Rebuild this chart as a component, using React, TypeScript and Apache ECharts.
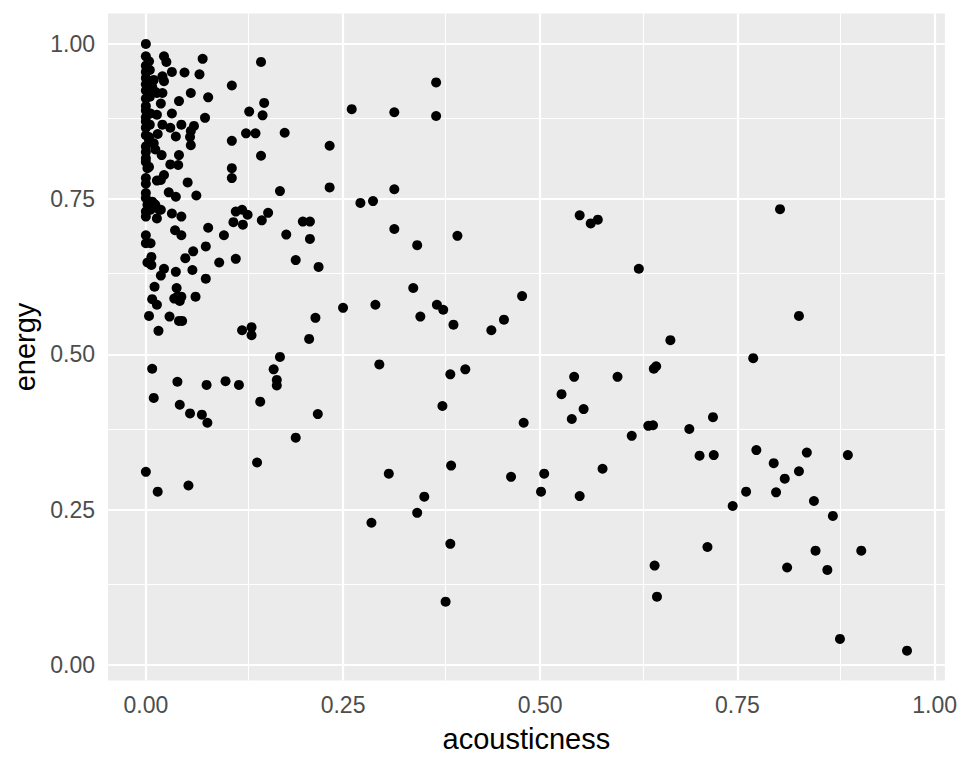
import React, { useEffect, useRef } from "react";
import * as echarts from "echarts";

const acousticness = [
  0, 0, 0.004, 0, 0, 0, 0.01, 0, 0.008, 0, 0.012, 0, 0, 0, 0.006, 0.014, 0, 0, 0, 0, 0.004, 0.004, 0.01, 0, 0, 0, 0.002, 0.004, 0, 0, 0, 0, 0.002, 0.008, 0.012, 0.017, 0, 0.014, 0, 0, 0.006, 0.006, 0.01, 0.019, 0, 0, 0.005, 0.005, 0.005,
  0.023, 0.026, 0.072, 0.033, 0.049, 0.068, 0.021, 0.023, 0.109, 0.057, 0.021, 0.014, 0.079, 0.042, 0.019, 0.131, 0.033, 0.075, 0.021, 0.031, 0.045, 0.061, 0.057, 0.056, 0.057, 0.038, 0.109, 0.127, 0.139, 0.02, 0.042, 0.031, 0.041, 0.109, 0.109, 0.023, 0.019, 0.014, 0.053, 0.029, 0.038, 0.064, 0.033, 0.045, 0.079, 0.099, 0.037, 0.045, 0.114, 0.122, 0.129, 0.111, 0.123, 0.076, 0.06, 0.05, 0.093, 0.114, 0.007, 0.002, 0.007, 0.023, 0.019, 0.038, 0.059, 0.076, 0.011, 0.039, 0.04, 0.036, 0.045, 0.043, 0.063, 0.008, 0.014, 0.004, 0.03, 0.042, 0.046, 0.016, 0.015, 0.012,
  0.146, 0.15, 0.148, 0.261, 0.315, 0.368, 0.368, 0.176, 0.233, 0.146, 0.17, 0.233, 0.315, 0.272, 0.288, 0.155, 0.147, 0.199, 0.208, 0.178, 0.208, 0.315, 0.344, 0.395, 0.19, 0.219, 0.339, 0.25, 0.291, 0.215, 0.348, 0.369, 0.377, 0.39, 0.134, 0.134, 0.122, 0.438, 0.207, 0.17, 0.162, 0.166, 0.166, 0.145, 0.218, 0.296, 0.386, 0.405, 0.376, 0.19, 0.141, 0.308, 0.387, 0.353, 0.344, 0.286, 0.386, 0.38,
  0.008, 0.04, 0.077, 0.101, 0.118, 0.01, 0.043, 0.056, 0.071, 0.078, 0, 0.015, 0.054,
  0.454, 0.477, 0.55, 0.564, 0.573, 0.625, 0.804, 0.828, 0.665, 0.77, 0.644, 0.647, 0.543, 0.598, 0.527, 0.555, 0.54, 0.479, 0.719, 0.637, 0.643, 0.689, 0.616, 0.702, 0.72, 0.774, 0.838, 0.89, 0.796, 0.828, 0.81, 0.761, 0.799, 0.847, 0.744, 0.871, 0.463, 0.505, 0.501, 0.55, 0.579, 0.712, 0.849, 0.907, 0.813, 0.864, 0.645, 0.648, 0.88, 0.965,
];

const energy = [
  1.0, 0.98, 0.972, 0.965, 0.955, 0.945, 0.942, 0.935, 0.931, 0.925, 0.923, 0.912, 0.9, 0.893, 0.888, 0.886, 0.882, 0.875, 0.865, 0.853, 0.85, 0.845, 0.84, 0.835, 0.826, 0.816, 0.8, 0.802, 0.784, 0.775, 0.76, 0.752, 0.741, 0.746, 0.741, 0.733, 0.73, 0.719, 0.692, 0.679, 0.679, 0.733, 0.743, 0.733, 0.722, 0.81, 0.87, 0.915, 0.958,
  0.98, 0.971, 0.976, 0.955, 0.954, 0.951, 0.948, 0.94, 0.933, 0.921, 0.921, 0.921, 0.914, 0.908, 0.904, 0.891, 0.888, 0.881, 0.87, 0.865, 0.87, 0.868, 0.86, 0.85, 0.837, 0.851, 0.844, 0.856, 0.856, 0.821, 0.821, 0.806, 0.805, 0.8, 0.784, 0.789, 0.781, 0.78, 0.777, 0.761, 0.754, 0.756, 0.727, 0.722, 0.704, 0.692, 0.7, 0.692, 0.73, 0.733, 0.725, 0.713, 0.709, 0.674, 0.666, 0.655, 0.648, 0.654, 0.657, 0.648, 0.644, 0.638, 0.627, 0.633, 0.636, 0.622, 0.609, 0.607, 0.593, 0.59, 0.593, 0.586, 0.593, 0.589, 0.58, 0.562, 0.561, 0.554, 0.554, 0.538, 0.855, 0.83,
  0.971, 0.905, 0.885, 0.895, 0.89, 0.938, 0.884, 0.857, 0.836, 0.82, 0.763, 0.769, 0.766, 0.744, 0.747, 0.728, 0.716, 0.714, 0.714, 0.693, 0.686, 0.702, 0.676, 0.691, 0.652, 0.641, 0.607, 0.575, 0.58, 0.559, 0.561, 0.58, 0.572, 0.548, 0.544, 0.531, 0.539, 0.539, 0.525, 0.496, 0.476, 0.459, 0.45, 0.424, 0.404, 0.484, 0.468, 0.476, 0.417, 0.366, 0.326, 0.308, 0.321, 0.271, 0.245, 0.229, 0.195, 0.102,
  0.477, 0.456, 0.451, 0.457, 0.451, 0.43, 0.419, 0.405, 0.403, 0.39, 0.311, 0.279, 0.289,
  0.556, 0.594, 0.724, 0.711, 0.717, 0.638, 0.734, 0.562, 0.523, 0.494, 0.477, 0.481, 0.464, 0.464, 0.436, 0.412, 0.396, 0.39, 0.399, 0.385, 0.386, 0.38, 0.369, 0.337, 0.338, 0.346, 0.342, 0.338, 0.325, 0.312, 0.3, 0.279, 0.278, 0.264, 0.256, 0.24, 0.303, 0.308, 0.279, 0.272, 0.316, 0.19, 0.184, 0.184, 0.157, 0.153, 0.16, 0.11, 0.042, 0.023,
];

const majorBreaks = [0, 0.25, 0.5, 0.75, 1];
const minorBreaks = [0.125, 0.375, 0.625, 0.875];

const FONT = "Liberation Sans, Arial, sans-serif";

export default function App() {
  const ref = useRef<HTMLDivElement>(null);
  useEffect(() => {
    document.body.style.margin = "0";
    const chart = echarts.init(ref.current!, null, { renderer: "svg" });
    const gridLines = (vals: number[], width: number) => ({
      type: "scatter",
      data: [],
      silent: true,
      z: 1,
      markLine: {
        silent: true,
        z: 1,
        symbol: ["none", "none"],
        label: { show: false },
        lineStyle: { color: "#FFFFFF", width, type: "solid" },
        emphasis: { disabled: true },
        data: [
          ...vals.map((v) => ({ xAxis: v })),
          ...vals.map((v) => ({ yAxis: v })),
        ],
      },
    });
    const points = acousticness.map((a, i) => [a, energy[i]]);
    const tickLabel = {
      customValues: majorBreaks,
      formatter: (v: number) => v.toFixed(2),
      fontSize: 23,
      color: "#4D4D4D",
      margin: 13,
      fontFamily: FONT,
    };
    const tick = {
      show: true,
      customValues: majorBreaks,
      length: 7,
      lineStyle: { color: "#333333", width: 1.5 },
    };
    chart.setOption({
      animation: false,
      backgroundColor: "#FFFFFF",
      grid: {
        left: 108,
        right: 13,
        top: 13.5,
        bottom: 87.5,
        show: true,
        backgroundColor: "#EBEBEB",
        borderWidth: 0,
      },
      xAxis: {
        type: "value",
        min: -0.048,
        max: 1.013,
        name: "acousticness",
        nameLocation: "middle",
        nameGap: 44,
        nameTextStyle: { fontSize: 29, color: "#000000", fontFamily: FONT },
        axisLine: { show: false },
        splitLine: { show: false },
        axisTick: tick,
        axisLabel: tickLabel,
      },
      yAxis: {
        type: "value",
        min: -0.025,
        max: 1.049,
        name: "energy",
        nameLocation: "middle",
        nameGap: 63,
        nameTextStyle: { fontSize: 29, color: "#000000", fontFamily: FONT },
        axisLine: { show: false },
        splitLine: { show: false },
        axisTick: tick,
        axisLabel: tickLabel,
      },
      series: [
        gridLines(minorBreaks, 1.1),
        gridLines(majorBreaks, 2.2),
        {
          type: "scatter",
          data: points,
          symbol: "circle",
          symbolSize: 10,
          itemStyle: { color: "#000000", opacity: 1 },
          z: 3,
          silent: true,
        },
      ],
    });
    return () => chart.dispose();
  }, []);
  return <div ref={ref} style={{ width: 960, height: 768 }} />;
}
